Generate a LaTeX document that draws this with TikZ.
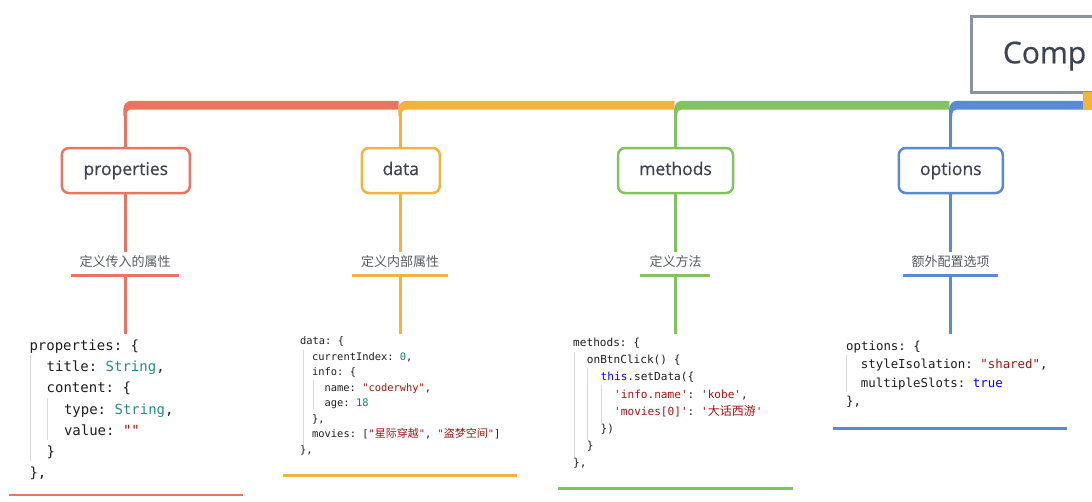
\documentclass[tikz,border=0pt]{standalone}
\usepackage{fontspec}
\setmainfont{Open Sans}
\setmonofont{DejaVu Sans Mono}
\newfontfamily\cjk{Noto Sans CJK SC}
\newfontfamily\boxfont{Open Sans}[FakeBold=0.6]
\definecolor{cred}{HTML}{EA7461}
\definecolor{corange}{HTML}{F2B43D}
\definecolor{cgreen}{HTML}{84C160}
\definecolor{cblue}{HTML}{5B8AD5}
\definecolor{cgray}{HTML}{8B93A1}
\definecolor{boxtext}{HTML}{3D4450}
\definecolor{labtext}{HTML}{555B61}
\definecolor{kc}{HTML}{1E1E1E}
\definecolor{ctype}{HTML}{2B8A8A}
\definecolor{cstr}{HTML}{A31515}
\definecolor{cnum}{HTML}{098658}
\definecolor{ckw}{HTML}{0000FF}
\definecolor{guide}{HTML}{D9D9D9}
\tikzset{
  box/.style={draw=#1, line width=2.5pt, rounded corners=7pt, fill=white,
    minimum height=45pt, inner sep=0pt, text=boxtext,
    text height=13.3pt, text depth=4.2pt,
    font=\boxfont\fontsize{17.5}{20}\selectfont},
  lab/.style={inner sep=4pt, text=labtext, font=\cjk\fontsize{13}{15}\selectfont},
  code/.style={anchor=base west, inner sep=0pt, text=kc,
    font=\ttfamily\fontsize{#1}{#1}\selectfont},
  thin/.style={draw=#1, line width=3pt},
  uline/.style={draw=#1, line width=2.5pt},
  gl/.style={draw=guide, line width=0.8pt}
}
\newcommand\codeln[5]{\node[code=#4] (#1) at (#2,#3) {#5};}
% corner of a branch: x, colour, bar end
\newcommand\branch[3]{%
  \fill[#2] (#1-1.6,116) -- (#1-1.6,109)
    .. controls (#1-1.6,104.4) and (#1+2,100.8) .. (#1+6.5,100.8)
    -- (#3,100.8) -- (#3,109.6) -- (#1+5.6,109.6)
    .. controls (#1+3.4,109.6) and (#1+1.6,111.4) .. (#1+1.6,113.6)
    -- (#1+1.6,116) -- cycle;}
\begin{document}
\begin{tikzpicture}[x=1pt,y=-1pt]
\useasboundingbox (0,0) rectangle (1092,501);
\clip (0,0) rectangle (1092,501);

% root box
\node[draw=cgray, line width=2.8pt, anchor=north west, minimum width=200pt,
  minimum height=76pt, inner sep=0pt] (root) at (969.7,15.4) {};
\node[anchor=base west, inner sep=0pt, text=boxtext,
  font=\boxfont\fontsize{30}{32}\selectfont] (roottext) at (1002.7,63.3) {Comp};

% top bar
\branch{125}{cred}{398.6}
\branch{400}{corange}{674.3}
\branch{675.7}{cgreen}{949.3}
\branch{950.7}{cblue}{1083}
\fill[corange] (1083,92) rectangle (1092,109.6);

\coordinate (pc) at (125,114);
\coordinate (dc) at (400,114);
\coordinate (mc) at (675.7,114);
\coordinate (oc) at (950.7,114);

% boxes
\node[box=cred, minimum width=128pt] (pbox) at (125.8,170.5) {properties};
\node[box=corange, minimum width=78pt] (dbox) at (400.8,170.5) {data};
\node[box=cgreen, minimum width=115pt] (mbox) at (675.5,170.5) {methods};
\node[box=cblue, minimum width=104pt] (obox) at (950.8,170.5) {options};

\draw[thin=cred] (pc) -- (pbox.north -| pc);
\draw[thin=corange] (dc) -- (dbox.north -| dc);
\draw[thin=cgreen] (mc) -- (mbox.north -| mc);
\draw[thin=cblue] (oc) -- (obox.north -| oc);

% labels
\node[lab] (plab) at (125,262) {定义传入的属性};
\node[lab] (dlab) at (400,262) {定义内部属性};
\node[lab] (mlab) at (675.7,262) {定义方法};
\node[lab] (olab) at (950.7,262) {额外配置选项};

\draw[thin=cred] (pbox.south -| pc) -- (plab.north -| pc);
\draw[thin=corange] (dbox.south -| dc) -- (dlab.north -| dc);
\draw[thin=cgreen] (mbox.south -| mc) -- (mlab.north -| mc);
\draw[thin=cblue] (obox.south -| oc) -- (olab.north -| oc);

% label underlines
\coordinate (pu1) at (70.7,275.7);  \coordinate (pu2) at (179.3,275.7);
\coordinate (du1) at (352,275.7);   \coordinate (du2) at (447.7,275.7);
\coordinate (mu1) at (640,275.7);   \coordinate (mu2) at (710,275.7);
\coordinate (ou1) at (902.7,275.7); \coordinate (ou2) at (998.3,275.7);
\draw[uline=cred] (pu1) -- (pu2);
\draw[uline=corange] (du1) -- (du2);
\draw[uline=cgreen] (mu1) -- (mu2);
\draw[uline=cblue] (ou1) -- (ou2);

\coordinate (pt) at (125,334);
\coordinate (dt) at (400,334);
\coordinate (mt) at (675.7,334);
\coordinate (ot) at (950.7,334);
\draw[thin=cred] (pu1 -| pc) -- (pt);
\draw[thin=corange] (du1 -| dc) -- (dt);
\draw[thin=cgreen] (mu1 -| mc) -- (mt);
\draw[thin=cblue] (ou1 -| oc) -- (ot);

% ---------- properties code
\draw[gl] (30.5,355) -- (30.5,461);
\draw[gl] (47.5,398) -- (47.5,440);
\codeln{p0}{29.3}{350.5}{14}{properties: \{}
\codeln{p1}{46.5}{371.7}{14}{title: \textcolor{ctype}{String},}
\codeln{p2}{46.5}{392.9}{14}{content: \{}
\codeln{p3}{63.8}{414.1}{14}{type: \textcolor{ctype}{String},}
\codeln{p4}{63.8}{435.3}{14}{value: \textcolor{cstr}{""}}
\codeln{p5}{46.5}{456.5}{14}{\}}
\codeln{p6}{29.3}{477.7}{14}{\},}
\coordinate (pb1) at (9,495); \coordinate (pb2) at (242.7,495);
\draw[uline=cred] (pb1) -- (pb2);

% ---------- data code
\draw[gl] (303.5,350) -- (303.5,446);
\draw[gl] (313.5,380) -- (313.5,410);
\codeln{d0}{300}{344.8}{10.4}{data: \{}
\codeln{d1}{312}{360.3}{10.4}{currentIndex: \textcolor{cnum}{0},}
\codeln{d2}{312}{375.8}{10.4}{info: \{}
\codeln{d3}{324.5}{391.3}{10.4}{name: \textcolor{cstr}{"coderwhy"},}
\codeln{d4}{324.5}{406.8}{10.4}{age: \textcolor{cnum}{18}}
\codeln{d5}{312}{422.3}{10.4}{\},}
\codeln{d6}{312}{437.8}{10.4}{movies: [\textcolor{cstr}{"{\cjk\fontsize{11}{11}\selectfont 星际穿越}"}, \textcolor{cstr}{"{\cjk\fontsize{11}{11}\selectfont 盗梦空间}"}]}
\codeln{d7}{300}{453.3}{10.4}{\},}
\coordinate (db1) at (283,475.7); \coordinate (db2) at (517,475.7);
\draw[uline=corange] (db1) -- (db2);

% ---------- methods code
\draw[gl] (574,352) -- (574,457);
\draw[gl] (587.5,368) -- (587.5,440);
\draw[gl] (601,385) -- (601,423);
\codeln{m0}{573}{346.7}{11.1}{methods: \{}
\codeln{m1}{586.7}{363.8}{11.1}{onBtnClick() \{}
\codeln{m2}{600.5}{380.9}{11.1}{\textcolor{ckw}{this}.setData(\{}
\codeln{m3}{614}{398}{11.1}{\textcolor{cstr}{'info.name'}: \textcolor{cstr}{'kobe'},}
\codeln{m4}{614}{415.1}{11.1}{\textcolor{cstr}{'movies[0]'}: \textcolor{cstr}{'{\cjk\fontsize{12}{12}\selectfont 大话西游}'}}
\codeln{m5}{600.5}{432.2}{11.1}{\})}
\codeln{m6}{586.7}{449.3}{11.1}{\}}
\codeln{m7}{573}{466.4}{11.1}{\},}
\coordinate (mb1) at (558,488.3); \coordinate (mb2) at (792.7,488.3);
\draw[uline=cgreen] (mb1) -- (mb2);

% ---------- options code
\draw[gl] (846,355) -- (846,392);
\codeln{o0}{846}{350.4}{12.4}{options: \{}
\codeln{o1}{860.7}{368.7}{12.4}{styleIsolation: \textcolor{cstr}{"shared"},}
\codeln{o2}{860.7}{387}{12.4}{multipleSlots: \textcolor{ckw}{true}}
\codeln{o3}{846}{405.3}{12.4}{\},}
\coordinate (ob1) at (833,428.3); \coordinate (ob2) at (1067,428.3);
\draw[uline=cblue] (ob1) -- (ob2);
\end{tikzpicture}
\end{document}
